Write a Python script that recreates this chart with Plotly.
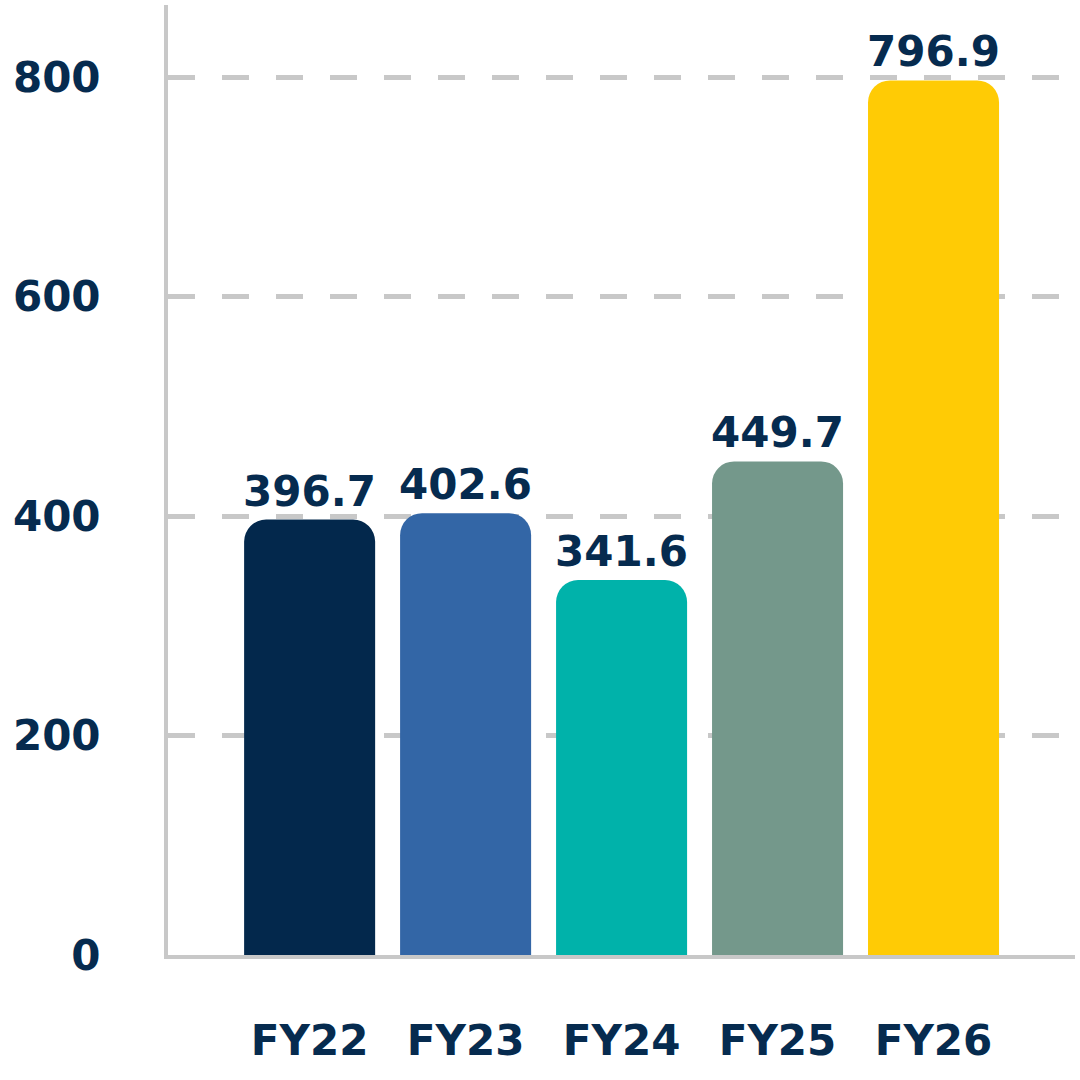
import plotly.graph_objects as go

categories = ["FY22", "FY23", "FY24", "FY25", "FY26"]
values = [396.7, 402.6, 341.6, 449.7, 796.9]
labels = ["396.7", "402.6", "341.6", "449.7", "796.9"]
colors = ["#03284C", "#3366A6", "#00B2AA", "#74988B", "#FFCB05"]
y_ticks = [0, 200, 400, 600, 800]

TEXT = "#062B4F"
GRID = "#C8C8C8"
FONT = "DejaVu Sans"

fig = go.Figure()
fig.add_trace(go.Bar(
    x=categories, y=values,
    marker=dict(color=colors, line=dict(width=0)),
    hoverinfo="skip",
))

for c, v, t in zip(categories, values, labels):
    fig.add_annotation(x=c, y=v, text=t, showarrow=False, yanchor="bottom",
                       yshift=2, font=dict(family=FONT, size=42, color=TEXT, weight="bold"))

fig.update_layout(
    width=1080, height=1080,
    margin=dict(l=168, r=5, t=5, b=125, autoexpand=False),
    plot_bgcolor="white", paper_bgcolor="white",
    showlegend=False,
    bargap=0.16,
    barcornerradius=22,
    font=dict(family=FONT, color=TEXT),
)
fig.update_xaxes(
    range=[-0.908, 4.907],
    showline=True, linecolor=GRID, linewidth=4,
    showgrid=False, zeroline=False, automargin=False,
    ticks="", ticklabelstandoff=46,
    tickfont=dict(family=FONT, size=42, color=TEXT, weight="bold"),
)
fig.update_yaxes(
    range=[0, 865.6],
    tickvals=y_ticks, ticktext=[str(v) for v in y_ticks],
    showline=True, linecolor=GRID, linewidth=4,
    showgrid=True, gridcolor=GRID, gridwidth=5, griddash="27px,27px",
    zeroline=False, automargin=False, ticks="", ticklabelstandoff=55,
    tickfont=dict(family=FONT, size=42, color=TEXT, weight="bold"),
)

fig.write_html("out.html", config={"displayModeBar": False},
               post_script="document.body.style.margin='0px';")
